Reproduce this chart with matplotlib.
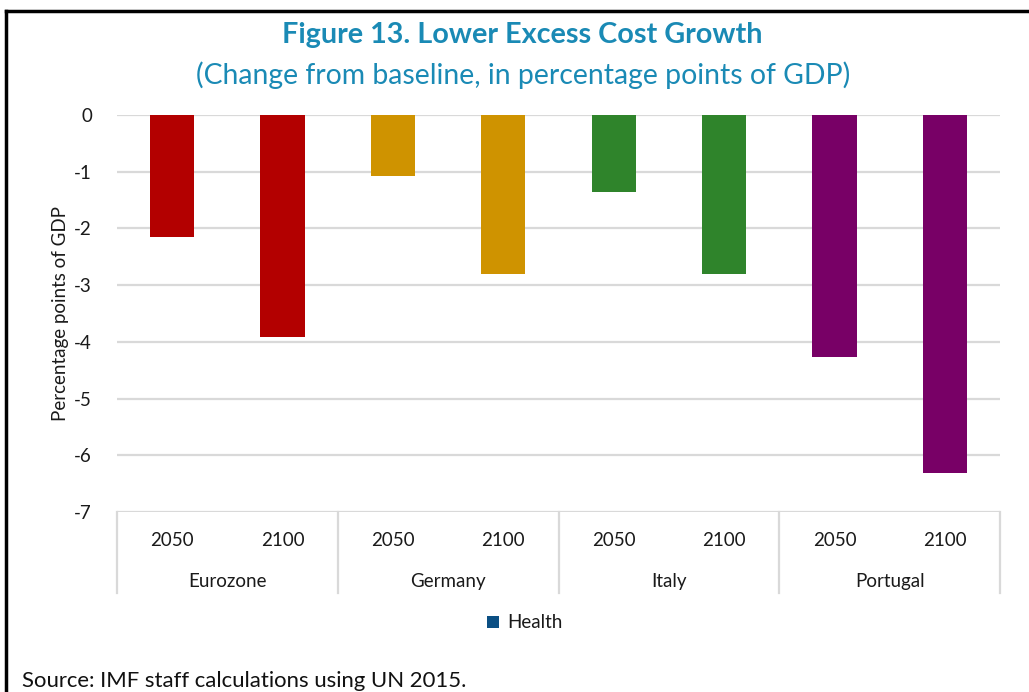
import matplotlib
matplotlib.use('Agg')

import matplotlib.pyplot as plt
import matplotlib.transforms as mtransforms
from matplotlib.lines import Line2D
from matplotlib.patches import Patch

countries = ['Eurozone', 'Germany', 'Italy', 'Portugal']
years = ['2050', '2100']
health = [-2.15, -3.92, -1.08, -2.81, -1.36, -2.81, -4.26, -6.32]
country_colors = ['#B30000', '#CF9300', '#2F842B', '#780066']
yticks = [0, -1, -2, -3, -4, -5, -6, -7]

plt.rcParams['font.family'] = ['Lato', 'DejaVu Sans']
text_color = '#1A1A1A'
grid_color = '#D9D9D9'
fs = 13.5

fig = plt.figure(figsize=(10.29, 6.92), dpi=100)
ax = fig.add_axes([117 / 1029, 1 - 512 / 692, (1000 - 117) / 1029, (512 - 115) / 692])

n = len(health)
x = list(range(n))
colors = [country_colors[i // len(years)] for i in range(n)]
ax.bar(x, health, width=0.4, color=colors, zorder=3)

ax.set_xlim(-0.5, n - 0.5)
ax.set_ylim(-7, 0)
ax.set_yticks(yticks)
ax.set_yticklabels([str(t) for t in yticks], fontsize=fs, color=text_color)
ax.tick_params(axis='y', length=0, pad=18)
ax.set_xticks([])
for t in yticks:
    ax.axhline(t, color=grid_color, linewidth=1.6, zorder=1)
for s in ax.spines.values():
    s.set_visible(False)
ax.set_ylabel('Percentage points of GDP', fontsize=fs, color=text_color, labelpad=4)

# two-level category axis: years, then countries, with separators
trans = mtransforms.blended_transform_factory(ax.transData, ax.transAxes)
for i in range(n):
    ax.text(x[i], -0.072, years[i % len(years)], transform=trans,
            ha='center', va='center', fontsize=fs, color=text_color)
for j, c in enumerate(countries):
    mid = j * len(years) + (len(years) - 1) / 2
    ax.text(mid, -0.174, c, transform=trans,
            ha='center', va='center', fontsize=fs, color=text_color)
for k in range(len(countries) + 1):
    xs = k * len(years) - 0.5
    ax.add_line(Line2D([xs, xs], [0, -0.204], transform=trans, color=grid_color,
                       linewidth=1.6, clip_on=False))

# titles
fig.text(0.508, 1 - 35 / 692, 'Figure 13. Lower Excess Cost Growth', ha='center', va='center',
         fontsize=20.7, fontweight='bold', color='#1A8AB5')
fig.text(0.508, 1 - 75 / 692, '(Change from baseline, in percentage points of GDP)',
         ha='center', va='center', fontsize=20.4, color='#1A8AB5')

# legend
handles = [Patch(facecolor='#0B4F83', label='Health')]
fig.legend(handles=handles, loc='center', bbox_to_anchor=(525 / 1029, 1 - 623 / 692),
           frameon=False, fontsize=fs, handlelength=0.65, handleheight=0.65,
           handletextpad=0.45, labelcolor=text_color)

fig.text(22 / 1029, 1 - 681 / 692, 'Source: IMF staff calculations using UN 2015.',
         ha='left', va='center', fontsize=15.9, color='#111111')

# frame lines along the top and left edge
fig.add_artist(Line2D([6 / 1029, 1], [1 - 11 / 692, 1 - 11 / 692], transform=fig.transFigure,
                      color='black', linewidth=2.5))
fig.add_artist(Line2D([6 / 1029, 6 / 1029], [0, 1 - 11 / 692], transform=fig.transFigure,
                      color='black', linewidth=2.5))

fig.savefig('out.png', dpi=100)
